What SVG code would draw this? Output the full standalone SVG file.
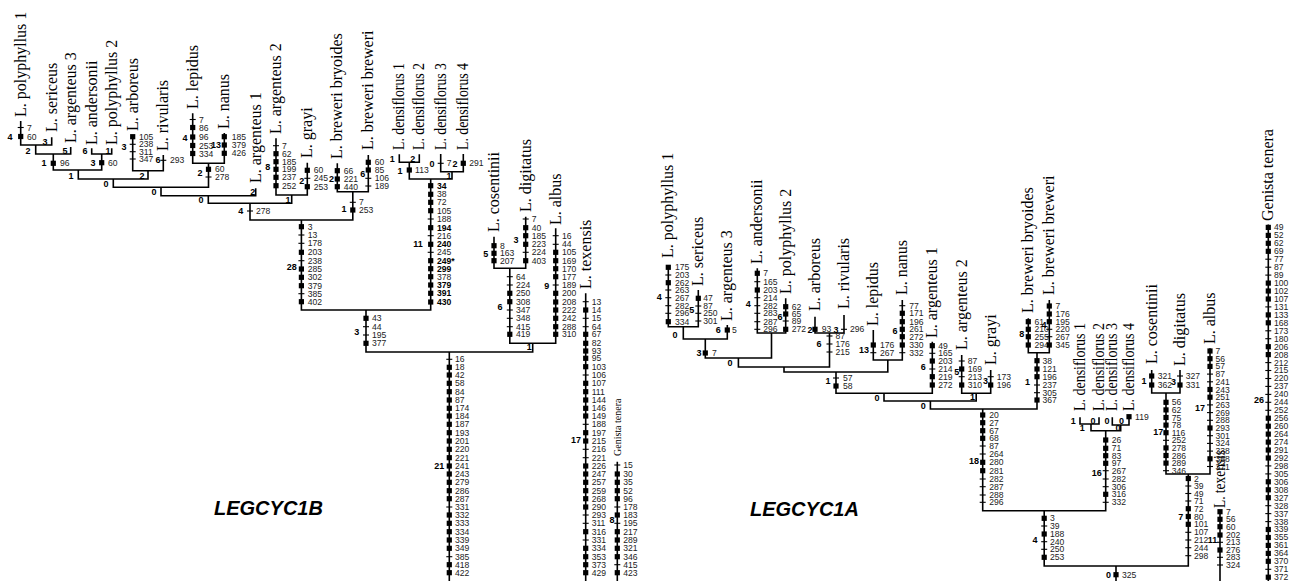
<svg xmlns="http://www.w3.org/2000/svg" width="1289" height="581" viewBox="0 0 1289 581">
<style>
.ln{stroke:#000;stroke-width:1.6;fill:none}
.n{font-family:"Liberation Sans",Arial,sans-serif;font-size:8.6px;fill:#222}
.nb{font-weight:bold;fill:#000}
.b{font-family:"Liberation Sans",Arial,sans-serif;font-weight:bold;font-size:9px;text-anchor:middle;fill:#000}
.lb{font-family:"Liberation Serif","Times New Roman",serif;font-size:16px;fill:#000}
.gs{font-family:"Liberation Serif","Times New Roman",serif;font-size:10px;fill:#000}
.ttl{font-family:"Liberation Sans",Arial,sans-serif;font-weight:bold;font-style:italic;font-size:20px;fill:#000}
</style>
<defs>
<rect id="s" x="-2.6" y="-2.6" width="5.2" height="5.2" fill="#000"/>
<path id="t" d="M-3,0H3" stroke="#000" stroke-width="1.1"/>
</defs>
<rect width="1289" height="581" fill="#fff"/>
<g id="connectors">
<path class="ln" d="M20.7,121V145H51.7V137.3M35.7,145V154H70.7V147M91.7,148.3V154H111.7V148.3M53.3,154V170H101.7V154M132.7,135V170.7H163.3V155M78.3,170V179H148V170.7M192.7,113.3V163.3H224.3V133M113.3,179V187.3H208.5V163.3M161,187.3V195.7H255.7V188.3M276,138.3V195H307.3V162.7M208.3,195.7V203.3H291.7V195M337.3,163.3V191.7H368.3V155M250,203.3V220H352.8V191.7M399.3,154.3V162.3H419.3V154.3M440.7,154V171.7H463.3V154M409.3,162.3V179H452V171.7M301.4,220V310H430.7V179M494,236.7V268.3H525.7V216.7M509.8,268.3V343.3H555.7V228.3M366,310V352H532.7V343.3M449.3,352V581M585.7,293.3V581M617.3,461.7V581"/>
<path class="ln" d="M668.3,265V326.7H698.3V290M683.3,326.7V339H727.3V325M757.3,268.3V333H785.7V298.3M815,316.7V333H844V315M705.3,339V358H771.5V333M738.4,358V367H829.5V333M873.3,330V360H902.3V300M784,367V372H887.8V360M836,372V393.3H932.3V341.7M961.7,355V393.3H990.7V370M884,393.3V401H976.2V393.3M1028.3,318.3V352.7H1049.3V300M930.4,401V409H1037V352.7M982.7,409V510.7H1105.7V430.7M1080,417.3V424H1099V417.3M1112.3,417.3V425H1129V415M1091,424V430.7H1120.7V425M1044.2,510.7V566H1188.3V474M1151.7,370V393H1180V370M1166,393V474H1210V348.3M1116,566V581M1220,510V581M1268.3,224.5V581"/>
</g>
<g id="title-1b"><text class="ttl" x="214" y="515">LEGCYC1B</text></g>
<g id="title-1a"><text class="ttl" x="750" y="516">LEGCYC1A</text></g>

<!-- LEFT TREE -->
<g id="b-poly1"><text class="lb" transform="translate(25.7,117) rotate(-90)">L. polyphyllus 1</text><use href="#t" x="20.7" y="127.5"/><use href="#s" x="20.7" y="136.5"/><text class="n"><tspan x="27" y="130.5">7</tspan><tspan x="27" y="139.5">60</tspan></text><text class="b" x="10" y="140.3">4</text></g>
<g id="b-seri"><text class="lb" transform="translate(56.7,132) rotate(-90)">L. sericeus</text><text class="b" x="45" y="145">3</text></g>
<g id="b-nA"><text class="b" x="28" y="154">2</text></g>
<g id="b-arg3"><text class="lb" transform="translate(75.7,143) rotate(-90)">L. argenteus 3</text><text class="b" x="65" y="153.5">5</text></g>
<g id="b-nB"><use href="#s" x="53.3" y="163.3"/><text class="n"><tspan x="60" y="166.3">96</tspan></text><text class="b" x="44" y="166.3">1</text></g>
<g id="b-anders"><text class="lb" transform="translate(96.7,145) rotate(-90)">L. andersonii</text><text class="b" x="85" y="154">6</text></g>
<g id="b-poly2"><text class="lb" transform="translate(116.7,145) rotate(-90)">L. polyphyllus 2</text><text class="b" x="108" y="154">1</text></g>
<g id="b-nC"><use href="#s" x="101.7" y="162.7"/><text class="n"><tspan x="108" y="165.7">60</tspan></text><text class="b" x="93" y="166.3">3</text></g>
<g id="b-nD"><text class="b" x="71" y="179">1</text></g>
<g id="b-arbor"><text class="lb" transform="translate(137.7,131) rotate(-90)">L. arboreus</text><use href="#s" x="132.7" y="136.7"/><use href="#t" x="132.7" y="144.3"/><use href="#t" x="132.7" y="151.7"/><use href="#t" x="132.7" y="159"/><text class="n"><tspan x="139" y="139.7">105</tspan><tspan x="139" y="147.3">238</tspan><tspan x="139" y="154.7">311</tspan><tspan x="139" y="162">347</tspan></text><text class="b" x="124" y="150">3</text></g>
<g id="b-rivul"><text class="lb" transform="translate(168.3,151) rotate(-90)">L. rivularis</text><use href="#t" x="163.3" y="160.3"/><text class="n"><tspan x="170" y="163.3">293</tspan></text><text class="b" x="158" y="163.3">6</text></g>
<g id="b-nE"><text class="b" x="142" y="179">2</text></g>
<g id="b-nF"><text class="b" x="106" y="187">0</text></g>
<g id="b-lepid"><text class="lb" transform="translate(197.7,109) rotate(-90)">L. lepidus</text><use href="#t" x="192.7" y="119.5"/><use href="#s" x="192.7" y="127.5"/><use href="#s" x="192.7" y="137"/><use href="#s" x="192.7" y="145.5"/><use href="#s" x="192.7" y="153.5"/><text class="n"><tspan x="199" y="122.5">7</tspan><tspan x="199" y="130.5">86</tspan><tspan x="199" y="140">96</tspan><tspan x="199" y="148.5">253</tspan><tspan x="199" y="156.5">334</tspan></text><text class="b" x="185" y="141.3">4</text></g>
<g id="b-nanus"><text class="lb" transform="translate(229.3,129) rotate(-90)">L. nanus</text><use href="#s" x="224.3" y="136.7"/><use href="#s" x="224.3" y="145"/><use href="#s" x="224.3" y="153.3"/><text class="n"><tspan x="231.7" y="139.7">185</tspan><tspan x="231.7" y="148">379</tspan><tspan x="231.7" y="156.3">426</tspan></text><text class="b" x="216" y="148.3">13</text></g>
<g id="b-nG"><use href="#s" x="208.5" y="169.3"/><use href="#t" x="208.5" y="177"/><text class="n"><tspan x="215" y="172.3">60</tspan><tspan x="215" y="180">278</tspan></text><text class="b" x="200" y="176">2</text></g>
<g id="b-nH"><text class="b" x="154" y="195.3">0</text></g>
<g id="b-arg1"><text class="lb" transform="translate(260.7,183) rotate(-90)">L. argenteus 1</text><text class="b" x="252.7" y="195">2</text></g>
<g id="b-nI"><text class="b" x="201" y="203.3">0</text></g>
<g id="b-arg2"><text class="lb" transform="translate(281,134) rotate(-90)">L. argenteus 2</text><use href="#t" x="276" y="145.7"/><use href="#s" x="276" y="153.7"/><use href="#s" x="276" y="161.7"/><use href="#s" x="276" y="169.3"/><use href="#s" x="276" y="177.3"/><use href="#s" x="276" y="185.7"/><text class="n"><tspan x="282" y="148.7">7</tspan><tspan x="282" y="156.7">62</tspan><tspan x="282" y="164.7">185</tspan><tspan x="282" y="172.3">199</tspan><tspan x="282" y="180.3">237</tspan><tspan x="282" y="188.7">252</tspan></text><text class="b" x="267.7" y="170">8</text></g>
<g id="b-grayi"><text class="lb" transform="translate(312.3,158) rotate(-90)">L. grayi</text><use href="#s" x="307.3" y="170.3"/><use href="#t" x="307.3" y="178.3"/><use href="#s" x="307.3" y="186.7"/><text class="n"><tspan x="313.7" y="173.3">60</tspan><tspan x="313.7" y="181.3">245</tspan><tspan x="313.7" y="189.7">253</tspan></text><text class="b" x="301.7" y="184.3">2</text></g>
<g id="b-nAG"><text class="b" x="288" y="202.5">1</text></g>
<g id="b-nJ"><use href="#t" x="250" y="211"/><text class="n"><tspan x="256" y="214">278</tspan></text><text class="b" x="240.7" y="214.3">4</text></g>
<g id="b-bryo"><text class="lb" transform="translate(342.3,159) rotate(-90)">L. breweri bryoides</text><use href="#s" x="337.3" y="170.7"/><use href="#s" x="337.3" y="179"/><use href="#s" x="337.3" y="186.7"/><text class="n"><tspan x="343.7" y="173.7">66</tspan><tspan x="343.7" y="182">221</tspan><tspan x="343.7" y="189.7">440</tspan></text><text class="b" x="331.5" y="182.3">2</text></g>
<g id="b-brew"><text class="lb" transform="translate(373.3,150) rotate(-90)">L. breweri breweri</text><use href="#s" x="368.3" y="162.3"/><use href="#s" x="368.3" y="170"/><use href="#t" x="368.3" y="178.3"/><use href="#t" x="368.3" y="186"/><text class="n"><tspan x="374.7" y="165.3">60</tspan><tspan x="374.7" y="173">85</tspan><tspan x="374.7" y="181.3">106</tspan><tspan x="374.7" y="189">189</tspan></text><text class="b" x="362.7" y="177.3">6</text></g>
<g id="b-nBr"><use href="#t" x="352.8" y="202.3"/><use href="#s" x="352.8" y="210"/><text class="n"><tspan x="359" y="205.3">7</tspan><tspan x="359" y="213">253</tspan></text><text class="b" x="344" y="212.3">1</text></g>
<g id="b-n28"><use href="#s" x="301.4" y="226.7"/><use href="#t" x="301.4" y="235"/><use href="#t" x="301.4" y="243.3"/><use href="#s" x="301.4" y="252.3"/><use href="#t" x="301.4" y="260.7"/><use href="#s" x="301.4" y="269"/><use href="#s" x="301.4" y="277.3"/><use href="#s" x="301.4" y="285.7"/><use href="#t" x="301.4" y="293.7"/><use href="#s" x="301.4" y="301.7"/><text class="n"><tspan x="307.7" y="229.7">3</tspan><tspan x="307.7" y="238">13</tspan><tspan x="307.7" y="246.3">178</tspan><tspan x="307.7" y="255.3">203</tspan><tspan x="307.7" y="263.7">238</tspan><tspan x="307.7" y="272">285</tspan><tspan x="307.7" y="280.3">302</tspan><tspan x="307.7" y="288.7">379</tspan><tspan x="307.7" y="296.7">385</tspan><tspan x="307.7" y="304.7">402</tspan></text><text class="b" x="291.7" y="270">28</text></g>
<g id="b-d1"><text class="lb" transform="translate(404.3,150) rotate(-90)" textLength="87" lengthAdjust="spacingAndGlyphs">L. densiflorus 1</text><text class="b" x="392.3" y="162.3">1</text></g>
<g id="b-d2"><text class="lb" transform="translate(424.3,150) rotate(-90)" textLength="87" lengthAdjust="spacingAndGlyphs">L. densiflorus 2</text><text class="b" x="412.7" y="162.3">2</text></g>
<g id="b-nK"><use href="#s" x="409.3" y="170"/><text class="n"><tspan x="415" y="173">113</tspan></text><text class="b" x="400" y="174.3">1</text></g>
<g id="b-d3"><text class="lb" transform="translate(445.7,150) rotate(-90)" textLength="87" lengthAdjust="spacingAndGlyphs">L. densiflorus 3</text><use href="#t" x="440.7" y="163.3"/><text class="n"><tspan x="446.7" y="166.3">7</tspan></text><text class="b" x="432" y="166.6">0</text></g>
<g id="b-d4"><text class="lb" transform="translate(468.3,150) rotate(-90)" textLength="87" lengthAdjust="spacingAndGlyphs">L. densiflorus 4</text><use href="#s" x="463.3" y="163.3"/><text class="n"><tspan x="469.3" y="166.3">291</tspan></text><text class="b" x="455" y="166.6">2</text></g>
<g id="b-nL"><text class="b" x="449" y="178.5" font-size="7">1</text></g>
<g id="b-n11"><use href="#s" x="430.7" y="185.7"/><use href="#s" x="430.7" y="194.3"/><use href="#s" x="430.7" y="202.3"/><use href="#s" x="430.7" y="210.7"/><use href="#t" x="430.7" y="219"/><use href="#s" x="430.7" y="227.7"/><use href="#t" x="430.7" y="235.7"/><use href="#s" x="430.7" y="244.3"/><use href="#t" x="430.7" y="252.3"/><use href="#s" x="430.7" y="260.7"/><use href="#s" x="430.7" y="268.7"/><use href="#s" x="430.7" y="276.7"/><use href="#s" x="430.7" y="285"/><use href="#s" x="430.7" y="293.3"/><use href="#s" x="430.7" y="302"/><text class="n"><tspan x="437" y="188.7" class="nb">34</tspan><tspan x="437" y="197.3">38</tspan><tspan x="437" y="205.3">72</tspan><tspan x="437" y="213.7">105</tspan><tspan x="437" y="222">188</tspan><tspan x="437" y="230.7" class="nb">194</tspan><tspan x="437" y="238.7">216</tspan><tspan x="437" y="247.3" class="nb">240</tspan><tspan x="437" y="255.3">245</tspan><tspan x="437" y="263.7" class="nb">249*</tspan><tspan x="437" y="271.7" class="nb">299</tspan><tspan x="437" y="279.7">378</tspan><tspan x="437" y="288" class="nb">379</tspan><tspan x="437" y="296.3" class="nb">391</tspan><tspan x="437" y="305" class="nb">430</tspan></text><text class="b" x="418" y="247.3">11</text></g>
<g id="b-nM"><use href="#s" x="366" y="318.3"/><use href="#t" x="366" y="326.7"/><use href="#t" x="366" y="335"/><use href="#s" x="366" y="343.3"/><text class="n"><tspan x="372" y="321.3">43</tspan><tspan x="372" y="329.7">44</tspan><tspan x="372" y="338">195</tspan><tspan x="372" y="346.3">377</tspan></text><text class="b" x="356.7" y="335.3">3</text></g>
<g id="b-cos"><text class="lb" transform="translate(499,232) rotate(-90)">L. cosentinii</text><use href="#s" x="494" y="245.7"/><use href="#s" x="494" y="253.3"/><use href="#s" x="494" y="260.7"/><text class="n"><tspan x="500" y="248.7">8</tspan><tspan x="500" y="256.3">163</tspan><tspan x="500" y="263.7">207</tspan></text><text class="b" x="485.7" y="256.6">5</text></g>
<g id="b-dig"><text class="lb" transform="translate(530.7,212) rotate(-90)">L. digitatus</text><use href="#t" x="525.7" y="219"/><use href="#s" x="525.7" y="227.7"/><use href="#s" x="525.7" y="235.7"/><use href="#s" x="525.7" y="244.3"/><use href="#t" x="525.7" y="252.3"/><use href="#s" x="525.7" y="260.7"/><text class="n"><tspan x="531.7" y="222">7</tspan><tspan x="531.7" y="230.7">40</tspan><tspan x="531.7" y="238.7">185</tspan><tspan x="531.7" y="247.3">223</tspan><tspan x="531.7" y="255.3">224</tspan><tspan x="531.7" y="263.7">403</tspan></text><text class="b" x="516" y="243.3">3</text></g>
<g id="b-n6"><use href="#t" x="509.8" y="276.7"/><use href="#t" x="509.8" y="285"/><use href="#s" x="509.8" y="293.3"/><use href="#s" x="509.8" y="301.7"/><use href="#t" x="509.8" y="310"/><use href="#t" x="509.8" y="318.3"/><use href="#t" x="509.8" y="326.7"/><use href="#s" x="509.8" y="334.3"/><text class="n"><tspan x="516" y="279.7">64</tspan><tspan x="516" y="288">224</tspan><tspan x="516" y="296.3">250</tspan><tspan x="516" y="304.7">308</tspan><tspan x="516" y="313">347</tspan><tspan x="516" y="321.3">348</tspan><tspan x="516" y="329.7">415</tspan><tspan x="516" y="337.3">419</tspan></text><text class="b" x="500" y="310">6</text></g>
<g id="b-albus"><text class="lb" transform="translate(560.7,225) rotate(-90)">L. albus</text><use href="#t" x="555.7" y="235.7"/><use href="#t" x="555.7" y="244.3"/><use href="#s" x="555.7" y="252.3"/><use href="#s" x="555.7" y="260.7"/><use href="#s" x="555.7" y="268.7"/><use href="#s" x="555.7" y="276.7"/><use href="#t" x="555.7" y="285"/><use href="#s" x="555.7" y="293.3"/><use href="#s" x="555.7" y="302"/><use href="#s" x="555.7" y="310"/><use href="#s" x="555.7" y="318.3"/><use href="#s" x="555.7" y="326.7"/><use href="#s" x="555.7" y="334.3"/><text class="n"><tspan x="562" y="238.7">16</tspan><tspan x="562" y="247.3">44</tspan><tspan x="562" y="255.3">105</tspan><tspan x="562" y="263.7">169</tspan><tspan x="562" y="271.7">170</tspan><tspan x="562" y="279.7">177</tspan><tspan x="562" y="288">189</tspan><tspan x="562" y="296.3">200</tspan><tspan x="562" y="305">208</tspan><tspan x="562" y="313">222</tspan><tspan x="562" y="321.3">242</tspan><tspan x="562" y="329.7">288</tspan><tspan x="562" y="337.3">310</tspan></text><text class="b" x="546.7" y="289">9</text></g>
<g id="b-nN"><text class="b" x="529.3" y="350">1</text></g>
<g id="b-n21"><use href="#t" x="449.3" y="359.3"/><use href="#s" x="449.3" y="367.3"/><use href="#s" x="449.3" y="375"/><use href="#s" x="449.3" y="383.3"/><use href="#s" x="449.3" y="391.7"/><use href="#s" x="449.3" y="400"/><use href="#s" x="449.3" y="408.3"/><use href="#s" x="449.3" y="416"/><use href="#s" x="449.3" y="424.3"/><use href="#s" x="449.3" y="432.7"/><use href="#s" x="449.3" y="441"/><use href="#s" x="449.3" y="449.3"/><use href="#s" x="449.3" y="457.7"/><use href="#s" x="449.3" y="466"/><use href="#s" x="449.3" y="474"/><use href="#s" x="449.3" y="482.3"/><use href="#s" x="449.3" y="490.7"/><use href="#s" x="449.3" y="498.7"/><use href="#t" x="449.3" y="507"/><use href="#s" x="449.3" y="515"/><use href="#s" x="449.3" y="523.3"/><use href="#s" x="449.3" y="531.7"/><use href="#s" x="449.3" y="540"/><use href="#s" x="449.3" y="548.3"/><use href="#t" x="449.3" y="556.7"/><use href="#s" x="449.3" y="564.7"/><use href="#s" x="449.3" y="572.7"/><text class="n"><tspan x="455" y="362.3">16</tspan><tspan x="455" y="370.3">18</tspan><tspan x="455" y="378">42</tspan><tspan x="455" y="386.3">58</tspan><tspan x="455" y="394.7">84</tspan><tspan x="455" y="403">87</tspan><tspan x="455" y="411.3">174</tspan><tspan x="455" y="419">184</tspan><tspan x="455" y="427.3">187</tspan><tspan x="455" y="435.7">193</tspan><tspan x="455" y="444">201</tspan><tspan x="455" y="452.3">220</tspan><tspan x="455" y="460.7">221</tspan><tspan x="455" y="469">241</tspan><tspan x="455" y="477">243</tspan><tspan x="455" y="485.3">279</tspan><tspan x="455" y="493.7">286</tspan><tspan x="455" y="501.7">287</tspan><tspan x="455" y="510">331</tspan><tspan x="455" y="518">332</tspan><tspan x="455" y="526.3">333</tspan><tspan x="455" y="534.7">334</tspan><tspan x="455" y="543">339</tspan><tspan x="455" y="551.3">349</tspan><tspan x="455" y="559.7">385</tspan><tspan x="455" y="567.7">418</tspan><tspan x="455" y="575.7">422</tspan></text><text class="b" x="439.3" y="469.3">21</text></g>
<g id="b-texL"><text class="lb" transform="translate(590.7,289) rotate(-90)">L. texensis</text><use href="#t" x="585.7" y="301.7"/><use href="#s" x="585.7" y="310"/><use href="#t" x="585.7" y="318.3"/><use href="#t" x="585.7" y="326.7"/><use href="#s" x="585.7" y="334.3"/><use href="#s" x="585.7" y="343.3"/><use href="#s" x="585.7" y="351"/><use href="#s" x="585.7" y="358.3"/><use href="#s" x="585.7" y="366.7"/><use href="#t" x="585.7" y="375"/><use href="#s" x="585.7" y="383.3"/><use href="#s" x="585.7" y="391.7"/><use href="#s" x="585.7" y="400"/><use href="#s" x="585.7" y="408.3"/><use href="#s" x="585.7" y="416"/><use href="#t" x="585.7" y="424.3"/><use href="#s" x="585.7" y="432.7"/><use href="#s" x="585.7" y="441"/><use href="#t" x="585.7" y="449.3"/><use href="#t" x="585.7" y="457.7"/><use href="#s" x="585.7" y="466"/><use href="#s" x="585.7" y="474"/><use href="#s" x="585.7" y="482.3"/><use href="#s" x="585.7" y="490.7"/><use href="#s" x="585.7" y="498.7"/><use href="#s" x="585.7" y="507"/><use href="#t" x="585.7" y="515"/><use href="#t" x="585.7" y="523.3"/><use href="#s" x="585.7" y="531.7"/><use href="#t" x="585.7" y="540"/><use href="#s" x="585.7" y="548.3"/><use href="#s" x="585.7" y="556.7"/><use href="#s" x="585.7" y="564.7"/><use href="#s" x="585.7" y="572.7"/><text class="n"><tspan x="591.7" y="304.7">13</tspan><tspan x="591.7" y="313">14</tspan><tspan x="591.7" y="321.3">15</tspan><tspan x="591.7" y="329.7">64</tspan><tspan x="591.7" y="337.3">67</tspan><tspan x="591.7" y="346.3">82</tspan><tspan x="591.7" y="354">93</tspan><tspan x="591.7" y="361.3">95</tspan><tspan x="591.7" y="369.7">103</tspan><tspan x="591.7" y="378">106</tspan><tspan x="591.7" y="386.3">107</tspan><tspan x="591.7" y="394.7">111</tspan><tspan x="591.7" y="403">144</tspan><tspan x="591.7" y="411.3">146</tspan><tspan x="591.7" y="419">149</tspan><tspan x="591.7" y="427.3">188</tspan><tspan x="591.7" y="435.7">197</tspan><tspan x="591.7" y="444">215</tspan><tspan x="591.7" y="452.3">216</tspan><tspan x="591.7" y="460.7">221</tspan><tspan x="591.7" y="469">226</tspan><tspan x="591.7" y="477">247</tspan><tspan x="591.7" y="485.3">257</tspan><tspan x="591.7" y="493.7">259</tspan><tspan x="591.7" y="501.7">268</tspan><tspan x="591.7" y="510">290</tspan><tspan x="591.7" y="518">293</tspan><tspan x="591.7" y="526.3">311</tspan><tspan x="591.7" y="534.7">316</tspan><tspan x="591.7" y="543">331</tspan><tspan x="591.7" y="551.3">334</tspan><tspan x="591.7" y="559.7">353</tspan><tspan x="591.7" y="567.7">373</tspan><tspan x="591.7" y="575.7">429</tspan></text><text class="b" x="576" y="442.6">17</text></g>
<g id="b-genL"><text class="gs" transform="translate(620.8,456) rotate(-90)">Genista tenera</text><use href="#t" x="617.3" y="465"/><use href="#s" x="617.3" y="474"/><use href="#s" x="617.3" y="482.3"/><use href="#s" x="617.3" y="490.7"/><use href="#s" x="617.3" y="498.7"/><use href="#t" x="617.3" y="507"/><use href="#s" x="617.3" y="515"/><use href="#t" x="617.3" y="523.3"/><use href="#s" x="617.3" y="531.7"/><use href="#s" x="617.3" y="540"/><use href="#s" x="617.3" y="548.3"/><use href="#s" x="617.3" y="556.7"/><use href="#t" x="617.3" y="564.7"/><use href="#s" x="617.3" y="572.7"/><text class="n"><tspan x="623.3" y="468">15</tspan><tspan x="623.3" y="477">30</tspan><tspan x="623.3" y="485.3">35</tspan><tspan x="623.3" y="493.7">52</tspan><tspan x="623.3" y="501.7">96</tspan><tspan x="623.3" y="510">178</tspan><tspan x="623.3" y="518">183</tspan><tspan x="623.3" y="526.3">195</tspan><tspan x="623.3" y="534.7">217</tspan><tspan x="623.3" y="543">289</tspan><tspan x="623.3" y="551.3">321</tspan><tspan x="623.3" y="559.7">346</tspan><tspan x="623.3" y="567.7">415</tspan><tspan x="623.3" y="575.7">423</tspan></text><text class="b" x="612" y="523.3">8</text></g>

<!-- RIGHT TREE -->
<g id="a-poly1"><text class="lb" transform="translate(673.3,258) rotate(-90)">L. polyphyllus 1</text><use href="#s" x="668.3" y="267.3"/><use href="#t" x="668.3" y="275"/><use href="#s" x="668.3" y="282.7"/><use href="#t" x="668.3" y="290"/><use href="#t" x="668.3" y="297.7"/><use href="#t" x="668.3" y="305.7"/><use href="#t" x="668.3" y="313.3"/><use href="#s" x="668.3" y="321.7"/><text class="n"><tspan x="675" y="270.3">175</tspan><tspan x="675" y="278">203</tspan><tspan x="675" y="285.7">262</tspan><tspan x="675" y="293">263</tspan><tspan x="675" y="300.7">267</tspan><tspan x="675" y="308.7">282</tspan><tspan x="675" y="316.3">296</tspan><tspan x="675" y="324.7">334</tspan></text><text class="b" x="659.3" y="300">4</text></g>
<g id="a-seri"><text class="lb" transform="translate(703.3,286) rotate(-90)">L. sericeus</text><use href="#s" x="698.3" y="298.3"/><use href="#t" x="698.3" y="306"/><use href="#t" x="698.3" y="313.3"/><use href="#t" x="698.3" y="321"/><text class="n"><tspan x="703.3" y="301.3">47</tspan><tspan x="703.3" y="309">87</tspan><tspan x="703.3" y="316.3">250</tspan><tspan x="703.3" y="324">301</tspan></text><text class="b" x="691.7" y="312.6">5</text></g>
<g id="a-nP1"><text class="b" x="675" y="338.3">0</text></g>
<g id="a-arg3"><text class="lb" transform="translate(732.3,321) rotate(-90)">L. argenteus 3</text><use href="#s" x="727.3" y="330"/><text class="n"><tspan x="732" y="333">5</tspan></text><text class="b" x="718.3" y="333">6</text></g>
<g id="a-nP2"><use href="#s" x="705.3" y="353"/><text class="n"><tspan x="712" y="356">7</tspan></text><text class="b" x="699" y="356.3">3</text></g>
<g id="a-anders"><text class="lb" transform="translate(762.3,264) rotate(-90)">L. andersonii</text><use href="#s" x="757.3" y="273.3"/><use href="#t" x="757.3" y="281.7"/><use href="#s" x="757.3" y="290"/><use href="#t" x="757.3" y="297.7"/><use href="#t" x="757.3" y="305.7"/><use href="#t" x="757.3" y="313.3"/><use href="#t" x="757.3" y="321.7"/><use href="#t" x="757.3" y="329.3"/><text class="n"><tspan x="763.3" y="276.3">7</tspan><tspan x="763.3" y="284.7">165</tspan><tspan x="763.3" y="293">203</tspan><tspan x="763.3" y="300.7">214</tspan><tspan x="763.3" y="308.7">282</tspan><tspan x="763.3" y="316.3">283</tspan><tspan x="763.3" y="324.7">287</tspan><tspan x="763.3" y="332.3">296</tspan></text><text class="b" x="748.3" y="306.6">4</text></g>
<g id="a-poly2"><text class="lb" transform="translate(790.7,294) rotate(-90)">L. polyphyllus 2</text><use href="#s" x="785.7" y="306.7"/><use href="#s" x="785.7" y="314"/><use href="#t" x="785.7" y="321"/><use href="#s" x="785.7" y="329.3"/><text class="n"><tspan x="791.7" y="309.7">62</tspan><tspan x="791.7" y="317">65</tspan><tspan x="791.7" y="324">89</tspan><tspan x="791.7" y="332.3">272</tspan></text><text class="b" x="780" y="320">6</text></g>
<g id="a-arbor"><text class="lb" transform="translate(820,311) rotate(-90)">L. arboreus</text><use href="#s" x="815" y="329.3"/><text class="n"><tspan x="821.7" y="332.3">93</tspan></text><text class="b" x="810" y="332.6">2</text></g>
<g id="a-rivul"><text class="lb" transform="translate(849,309) rotate(-90)">L. rivularis</text><use href="#t" x="844" y="329.3"/><text class="n"><tspan x="850" y="332.3">296</tspan></text><text class="b" x="836" y="332.6">3</text></g>
<g id="a-nAR"><use href="#t" x="829.5" y="336"/><use href="#t" x="829.5" y="344"/><use href="#t" x="829.5" y="352"/><text class="n"><tspan x="835.5" y="339">87</tspan><tspan x="835.5" y="347">176</tspan><tspan x="835.5" y="355">215</tspan></text><text class="b" x="819" y="347.3">6</text></g>
<g id="a-nQ"><text class="b" x="730" y="366">0</text></g>
<g id="a-lepid"><text class="lb" transform="translate(878.3,326) rotate(-90)">L. lepidus</text><use href="#s" x="873.3" y="345"/><use href="#t" x="873.3" y="352.7"/><text class="n"><tspan x="880" y="348">176</tspan><tspan x="880" y="355.7">267</tspan></text><text class="b" x="864" y="353.3">13</text></g>
<g id="a-nanus"><text class="lb" transform="translate(907.3,295) rotate(-90)">L. nanus</text><use href="#t" x="902.3" y="305.7"/><use href="#s" x="902.3" y="313.3"/><use href="#s" x="902.3" y="321.7"/><use href="#s" x="902.3" y="329.3"/><use href="#s" x="902.3" y="336.7"/><use href="#s" x="902.3" y="345"/><use href="#t" x="902.3" y="352.7"/><text class="n"><tspan x="909.3" y="308.7">77</tspan><tspan x="909.3" y="316.3">171</tspan><tspan x="909.3" y="324.7">196</tspan><tspan x="909.3" y="332.3">261</tspan><tspan x="909.3" y="339.7">272</tspan><tspan x="909.3" y="348">330</tspan><tspan x="909.3" y="355.7">332</tspan></text><text class="b" x="895" y="334">6</text></g>
<g id="a-nX"><use href="#t" x="836" y="378"/><use href="#s" x="836" y="386"/><text class="n"><tspan x="843" y="381">57</tspan><tspan x="843" y="389">58</tspan></text><text class="b" x="828" y="384.3">1</text></g>
<g id="a-arg1"><text class="lb" transform="translate(937.3,338) rotate(-90)">L. argenteus 1</text><use href="#s" x="932.3" y="345.7"/><use href="#t" x="932.3" y="353.3"/><use href="#s" x="932.3" y="361"/><use href="#t" x="932.3" y="369"/><use href="#s" x="932.3" y="376.7"/><use href="#s" x="932.3" y="385"/><text class="n"><tspan x="938.3" y="348.7">49</tspan><tspan x="938.3" y="356.3">165</tspan><tspan x="938.3" y="364">203</tspan><tspan x="938.3" y="372">214</tspan><tspan x="938.3" y="379.7">219</tspan><tspan x="938.3" y="388">272</tspan></text><text class="b" x="923.3" y="370">6</text></g>
<g id="a-arg2"><text class="lb" transform="translate(966.7,350) rotate(-90)">L. argenteus 2</text><use href="#t" x="961.7" y="361"/><use href="#s" x="961.7" y="369"/><use href="#t" x="961.7" y="376.7"/><use href="#s" x="961.7" y="385"/><text class="n"><tspan x="967.7" y="364">87</tspan><tspan x="967.7" y="372">169</tspan><tspan x="967.7" y="379.7">213</tspan><tspan x="967.7" y="388">310</tspan></text><text class="b" x="956.7" y="375">5</text></g>
<g id="a-grayi"><text class="lb" transform="translate(995.7,365) rotate(-90)">L. grayi</text><use href="#t" x="990.7" y="376.7"/><use href="#s" x="990.7" y="385"/><text class="n"><tspan x="996.7" y="379.7">173</tspan><tspan x="996.7" y="388">196</tspan></text><text class="b" x="985.5" y="384.3">3</text></g>
<g id="a-nAG"><text class="b" x="972.5" y="400">1</text></g>
<g id="a-nY"><text class="b" x="877" y="401.3">0</text></g>
<g id="a-nZ"><text class="b" x="923.3" y="409.3">0</text></g>
<g id="a-bryo"><text class="lb" transform="translate(1033.3,313) rotate(-90)">L. breweri bryoides</text><use href="#s" x="1028.3" y="321.7"/><use href="#s" x="1028.3" y="329.3"/><use href="#s" x="1028.3" y="336.7"/><use href="#s" x="1028.3" y="345"/><text class="n"><tspan x="1034.5" y="324.7">61</tspan><tspan x="1034.5" y="332.3">210</tspan><tspan x="1034.5" y="339.7">255</tspan><tspan x="1034.5" y="348">294</tspan></text><text class="b" x="1021.7" y="336.6">8</text></g>
<g id="a-brew"><text class="lb" transform="translate(1054.3,295) rotate(-90)">L. breweri breweri</text><use href="#s" x="1049.3" y="306"/><use href="#s" x="1049.3" y="314"/><use href="#s" x="1049.3" y="321.7"/><use href="#t" x="1049.3" y="329.3"/><use href="#t" x="1049.3" y="336.7"/><use href="#s" x="1049.3" y="345"/><text class="n"><tspan x="1055.5" y="309">7</tspan><tspan x="1055.5" y="317">176</tspan><tspan x="1055.5" y="324.7">195</tspan><tspan x="1055.5" y="332.3">220</tspan><tspan x="1055.5" y="339.7">267</tspan><tspan x="1055.5" y="348">345</tspan></text><text class="b" x="1044" y="328.3">4</text></g>
<g id="a-nBR"><use href="#s" x="1037" y="360.7"/><use href="#s" x="1037" y="369"/><use href="#s" x="1037" y="376.7"/><use href="#t" x="1037" y="385"/><use href="#t" x="1037" y="392.7"/><use href="#s" x="1037" y="400"/><text class="n"><tspan x="1042.5" y="363.7">38</tspan><tspan x="1042.5" y="372">121</tspan><tspan x="1042.5" y="379.7">196</tspan><tspan x="1042.5" y="388">237</tspan><tspan x="1042.5" y="395.7">305</tspan><tspan x="1042.5" y="403">367</tspan></text><text class="b" x="1027.5" y="385">1</text></g>
<g id="a-n18"><use href="#s" x="982.7" y="415"/><use href="#s" x="982.7" y="422.7"/><use href="#s" x="982.7" y="430.7"/><use href="#s" x="982.7" y="438.3"/><use href="#t" x="982.7" y="446"/><use href="#t" x="982.7" y="454"/><use href="#s" x="982.7" y="462.3"/><use href="#s" x="982.7" y="470.7"/><use href="#t" x="982.7" y="479"/><use href="#t" x="982.7" y="486.7"/><use href="#t" x="982.7" y="495"/><use href="#t" x="982.7" y="502.3"/><text class="n"><tspan x="989.3" y="418">20</tspan><tspan x="989.3" y="425.7">27</tspan><tspan x="989.3" y="433.7">67</tspan><tspan x="989.3" y="441.3">68</tspan><tspan x="989.3" y="449">87</tspan><tspan x="989.3" y="457">264</tspan><tspan x="989.3" y="465.3">280</tspan><tspan x="989.3" y="473.7">281</tspan><tspan x="989.3" y="482">282</tspan><tspan x="989.3" y="489.7">287</tspan><tspan x="989.3" y="498">288</tspan><tspan x="989.3" y="505.3">296</tspan></text><text class="b" x="974" y="464">18</text></g>
<g id="a-d1"><text class="lb" transform="translate(1085,411) rotate(-90)" textLength="88" lengthAdjust="spacingAndGlyphs">L. densiflorus 1</text><text class="b" x="1073.3" y="424.3">1</text></g>
<g id="a-d2"><text class="lb" transform="translate(1104,411) rotate(-90)" textLength="88" lengthAdjust="spacingAndGlyphs">L. densiflorus 2</text><text class="b" x="1093" y="424.3">0</text></g>
<g id="a-d3"><text class="lb" transform="translate(1117.3,411) rotate(-90)" textLength="88" lengthAdjust="spacingAndGlyphs">L. densiflorus 3</text><text class="b" x="1107" y="424.3">0</text></g>
<g id="a-d4"><text class="lb" transform="translate(1134,411) rotate(-90)" textLength="88" lengthAdjust="spacingAndGlyphs">L. densiflorus 4</text><use href="#s" x="1129" y="416.7"/><text class="n"><tspan x="1135" y="419.7">119</tspan></text><text class="b" x="1121.5" y="424.3">0</text></g>
<g id="a-nD12"><text class="b" x="1082.3" y="431.3">1</text></g>
<g id="a-nD34"><text class="b" x="1118" y="431" font-size="7">0</text></g>
<g id="a-n16"><use href="#s" x="1105.7" y="440"/><use href="#s" x="1105.7" y="448.3"/><use href="#s" x="1105.7" y="455.7"/><use href="#s" x="1105.7" y="463.3"/><use href="#t" x="1105.7" y="470.7"/><use href="#t" x="1105.7" y="479"/><use href="#t" x="1105.7" y="486.7"/><use href="#s" x="1105.7" y="494.3"/><use href="#t" x="1105.7" y="502.3"/><text class="n"><tspan x="1111.7" y="443">26</tspan><tspan x="1111.7" y="451.3">71</tspan><tspan x="1111.7" y="458.7">83</tspan><tspan x="1111.7" y="466.3">97</tspan><tspan x="1111.7" y="473.7">267</tspan><tspan x="1111.7" y="482">282</tspan><tspan x="1111.7" y="489.7">306</tspan><tspan x="1111.7" y="497.3">316</tspan><tspan x="1111.7" y="505.3">332</tspan></text><text class="b" x="1096.7" y="476">16</text></g>
<g id="a-n4"><use href="#s" x="1044.2" y="518.3"/><use href="#t" x="1044.2" y="526"/><use href="#s" x="1044.2" y="534"/><use href="#t" x="1044.2" y="541.7"/><use href="#t" x="1044.2" y="549.3"/><use href="#s" x="1044.2" y="557.3"/><text class="n"><tspan x="1050" y="521.3">3</tspan><tspan x="1050" y="529">39</tspan><tspan x="1050" y="537">188</tspan><tspan x="1050" y="544.7">240</tspan><tspan x="1050" y="552.3">250</tspan><tspan x="1050" y="560.3">253</tspan></text><text class="b" x="1035" y="542.6">4</text></g>
<g id="a-root"><use href="#s" x="1116" y="574.7"/><text class="n"><tspan x="1122" y="577.7">325</tspan></text><text class="b" x="1108.5" y="578">0</text></g>
<g id="a-cos"><text class="lb" transform="translate(1156.7,364) rotate(-90)">L. cosentinii</text><use href="#s" x="1151.7" y="376"/><use href="#s" x="1151.7" y="385"/><text class="n"><tspan x="1157.7" y="379">321</tspan><tspan x="1157.7" y="388">362</tspan></text><text class="b" x="1144" y="384">1</text></g>
<g id="a-dig"><text class="lb" transform="translate(1185,366) rotate(-90)">L. digitatus</text><use href="#t" x="1180" y="376"/><use href="#s" x="1180" y="385"/><text class="n"><tspan x="1185.7" y="379">327</tspan><tspan x="1185.7" y="388">331</tspan></text><text class="b" x="1173.5" y="385">3</text></g>
<g id="a-nCD"><use href="#s" x="1166" y="402.3"/><use href="#s" x="1166" y="409.9"/><use href="#s" x="1166" y="417.5"/><use href="#s" x="1166" y="425.1"/><use href="#s" x="1166" y="432.7"/><use href="#t" x="1166" y="440.3"/><use href="#s" x="1166" y="447.9"/><use href="#s" x="1166" y="455.5"/><use href="#s" x="1166" y="463.1"/><use href="#t" x="1166" y="470.7"/><text class="n"><tspan x="1171.7" y="405.3">56</tspan><tspan x="1171.7" y="412.9">62</tspan><tspan x="1171.7" y="420.5">75</tspan><tspan x="1171.7" y="428.1">78</tspan><tspan x="1171.7" y="435.7">116</tspan><tspan x="1171.7" y="443.3">252</tspan><tspan x="1171.7" y="450.9">278</tspan><tspan x="1171.7" y="458.5">286</tspan><tspan x="1171.7" y="466.1">289</tspan><tspan x="1171.7" y="473.7">346</tspan></text><text class="b" x="1158.3" y="435">17</text></g>
<g id="a-albus"><text class="lb" transform="translate(1215,344) rotate(-90)">L. albus</text><use href="#s" x="1210" y="351"/><use href="#s" x="1210" y="358.7"/><use href="#s" x="1210" y="366.4"/><use href="#t" x="1210" y="374.1"/><use href="#t" x="1210" y="381.8"/><use href="#s" x="1210" y="389.5"/><use href="#s" x="1210" y="397.2"/><use href="#t" x="1210" y="404.9"/><use href="#t" x="1210" y="412.6"/><use href="#t" x="1210" y="420.3"/><use href="#s" x="1210" y="428"/><use href="#t" x="1210" y="435.7"/><use href="#t" x="1210" y="443.4"/><use href="#t" x="1210" y="451.1"/><use href="#s" x="1210" y="458.8"/><use href="#t" x="1210" y="466.5"/><text class="n"><tspan x="1215.5" y="354">7</tspan><tspan x="1215.5" y="361.7">56</tspan><tspan x="1215.5" y="369.4">57</tspan><tspan x="1215.5" y="377.1">87</tspan><tspan x="1215.5" y="384.8">241</tspan><tspan x="1215.5" y="392.5">243</tspan><tspan x="1215.5" y="400.2">251</tspan><tspan x="1215.5" y="407.9">263</tspan><tspan x="1215.5" y="415.6">269</tspan><tspan x="1215.5" y="423.3">288</tspan><tspan x="1215.5" y="431">293</tspan><tspan x="1215.5" y="438.7">301</tspan><tspan x="1215.5" y="446.4">324</tspan><tspan x="1215.5" y="454.1">338</tspan><tspan x="1215.5" y="461.8">368</tspan><tspan x="1215.5" y="469.5">371</tspan></text><text class="b" x="1200" y="411">17</text></g>
<g id="a-n7"><use href="#s" x="1188.3" y="478.5"/><use href="#t" x="1188.3" y="486"/><use href="#t" x="1188.3" y="493.5"/><use href="#t" x="1188.3" y="501"/><use href="#s" x="1188.3" y="508.7"/><use href="#s" x="1188.3" y="516.5"/><use href="#s" x="1188.3" y="524.3"/><use href="#t" x="1188.3" y="532.3"/><use href="#t" x="1188.3" y="540"/><use href="#t" x="1188.3" y="547.7"/><use href="#t" x="1188.3" y="555.7"/><text class="n"><tspan x="1194" y="481.5">2</tspan><tspan x="1194" y="489">39</tspan><tspan x="1194" y="496.5">49</tspan><tspan x="1194" y="504">71</tspan><tspan x="1194" y="511.7">72</tspan><tspan x="1194" y="519.5">80</tspan><tspan x="1194" y="527.3">101</tspan><tspan x="1194" y="535.3">107</tspan><tspan x="1194" y="543">212</tspan><tspan x="1194" y="550.7">244</tspan><tspan x="1194" y="558.7">298</tspan></text><text class="b" x="1180.7" y="520">7</text></g>
<g id="a-tex"><text class="lb" transform="translate(1225,508) rotate(-90)" textLength="58" lengthAdjust="spacingAndGlyphs">L. texensis</text><use href="#s" x="1220" y="511.7"/><use href="#s" x="1220" y="519.3"/><use href="#s" x="1220" y="526.7"/><use href="#s" x="1220" y="535"/><use href="#t" x="1220" y="542.3"/><use href="#s" x="1220" y="550"/><use href="#t" x="1220" y="557.3"/><use href="#t" x="1220" y="565"/><text class="n"><tspan x="1226" y="514.7">7</tspan><tspan x="1226" y="522.3">56</tspan><tspan x="1226" y="529.7">60</tspan><tspan x="1226" y="538">202</tspan><tspan x="1226" y="545.3">213</tspan><tspan x="1226" y="553">276</tspan><tspan x="1226" y="560.3">283</tspan><tspan x="1226" y="568">324</tspan></text><text class="b" x="1212.5" y="543.3">11</text></g>
<g id="a-gen"><text class="lb" transform="translate(1273.3,221) rotate(-90)">Genista tenera</text>
<g transform="translate(0,-1.6)">
<use href="#s" x="1268.3" y="229"/><use href="#s" x="1268.3" y="237"/><use href="#s" x="1268.3" y="244.9"/><use href="#s" x="1268.3" y="252.9"/><use href="#t" x="1268.3" y="260.8"/><use href="#t" x="1268.3" y="268.8"/><use href="#t" x="1268.3" y="276.7"/><use href="#s" x="1268.3" y="284.7"/><use href="#s" x="1268.3" y="292.6"/><use href="#s" x="1268.3" y="300.6"/><use href="#t" x="1268.3" y="308.5"/><use href="#s" x="1268.3" y="316.5"/><use href="#s" x="1268.3" y="324.4"/><use href="#t" x="1268.3" y="332.4"/><use href="#t" x="1268.3" y="340.3"/><use href="#s" x="1268.3" y="348.3"/><use href="#s" x="1268.3" y="356.2"/><use href="#t" x="1268.3" y="364.2"/><use href="#t" x="1268.3" y="372.1"/><use href="#t" x="1268.3" y="380.1"/><use href="#t" x="1268.3" y="388"/><use href="#t" x="1268.3" y="396"/><use href="#t" x="1268.3" y="403.9"/><use href="#t" x="1268.3" y="411.9"/><use href="#s" x="1268.3" y="419.8"/><use href="#s" x="1268.3" y="427.8"/><use href="#s" x="1268.3" y="435.7"/><use href="#s" x="1268.3" y="443.7"/><use href="#s" x="1268.3" y="451.6"/><use href="#s" x="1268.3" y="459.6"/><use href="#t" x="1268.3" y="467.5"/><use href="#t" x="1268.3" y="475.5"/><use href="#s" x="1268.3" y="483.4"/><use href="#s" x="1268.3" y="491.4"/><use href="#s" x="1268.3" y="499.3"/><use href="#t" x="1268.3" y="507.3"/><use href="#t" x="1268.3" y="515.2"/><use href="#t" x="1268.3" y="523.2"/><use href="#s" x="1268.3" y="531.1"/><use href="#s" x="1268.3" y="539.1"/><use href="#s" x="1268.3" y="547"/><use href="#s" x="1268.3" y="555"/><use href="#s" x="1268.3" y="562.9"/><use href="#t" x="1268.3" y="570.9"/><use href="#s" x="1268.3" y="578.8"/>
<text class="n"><tspan x="1274" y="232">49</tspan><tspan x="1274" y="240">52</tspan><tspan x="1274" y="247.9">62</tspan><tspan x="1274" y="255.9">69</tspan><tspan x="1274" y="263.8">77</tspan><tspan x="1274" y="271.8">87</tspan><tspan x="1274" y="279.7">89</tspan><tspan x="1274" y="287.7">100</tspan><tspan x="1274" y="295.6">102</tspan><tspan x="1274" y="303.6">107</tspan><tspan x="1274" y="311.5">131</tspan><tspan x="1274" y="319.5">133</tspan><tspan x="1274" y="327.4">168</tspan><tspan x="1274" y="335.4">173</tspan><tspan x="1274" y="343.3">180</tspan><tspan x="1274" y="351.3">206</tspan><tspan x="1274" y="359.2">208</tspan><tspan x="1274" y="367.2">212</tspan><tspan x="1274" y="375.1">215</tspan><tspan x="1274" y="383.1">220</tspan><tspan x="1274" y="391">237</tspan><tspan x="1274" y="399">240</tspan><tspan x="1274" y="406.9">244</tspan><tspan x="1274" y="414.9">252</tspan><tspan x="1274" y="422.8">256</tspan><tspan x="1274" y="430.8">260</tspan><tspan x="1274" y="438.7">264</tspan><tspan x="1274" y="446.7">274</tspan><tspan x="1274" y="454.6">291</tspan><tspan x="1274" y="462.6">292</tspan><tspan x="1274" y="470.5">298</tspan><tspan x="1274" y="478.5">305</tspan><tspan x="1274" y="486.4">306</tspan><tspan x="1274" y="494.4">308</tspan><tspan x="1274" y="502.3">327</tspan><tspan x="1274" y="510.3">328</tspan><tspan x="1274" y="518.2">337</tspan><tspan x="1274" y="526.2">338</tspan><tspan x="1274" y="534.1">339</tspan><tspan x="1274" y="542.1">355</tspan><tspan x="1274" y="550">361</tspan><tspan x="1274" y="558">364</tspan><tspan x="1274" y="565.9">370</tspan><tspan x="1274" y="573.9">371</tspan><tspan x="1274" y="581.8">372</tspan></text>
</g><text class="b" x="1259" y="403.3">26</text></g>
</svg>
